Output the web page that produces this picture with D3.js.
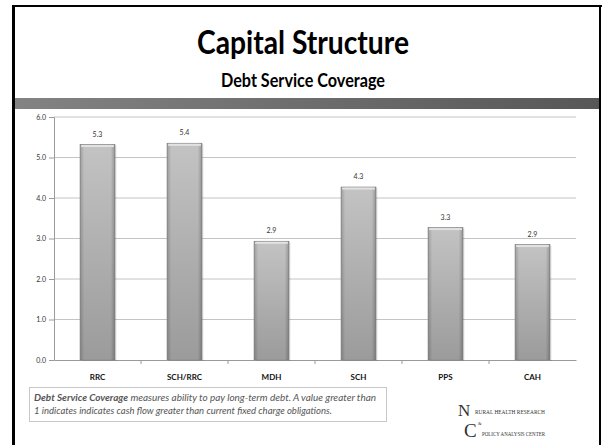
<!DOCTYPE html>
<html>
<head>
<meta charset="utf-8">
<script src="https://cdn.jsdelivr.net/npm/d3@7"></script>
<style>
  body { margin: 0; background: #fff; }
  svg { display: block; }
</style>
</head>
<body>
<div id="viz-container"></div>
<script>
// chart data
const categories = ["RRC", "SCH/RRC", "MDH", "SCH", "PPS", "CAH"];
const values = [5.32, 5.35, 2.93, 4.27, 3.27, 2.85];
const valueLabels = ["5.3", "5.4", "2.9", "4.3", "3.3", "2.9"];
const yTicks = [0, 1, 2, 3, 4, 5, 6];

const title = "Capital Structure";
const subtitle = "Debt Service Coverage";
const noteBold = "Debt Service Coverage";
const noteLine1 = " measures ability to pay long-term debt.  A value greater than";
const noteLine2 = "1 indicates indicates cash flow greater than current fixed charge obligations.";

const width = 602, height = 445;
const margin = { left: 54, right: 26, top: 117, bottom: 85 };
const font = "Lato, 'Open Sans', sans-serif";

const svg = d3.select("#viz-container").append("svg")
    .attr("width", width)
    .attr("height", height);

const defs = svg.append("defs");

// header band gradient
const band = defs.append("linearGradient").attr("id", "band");
band.append("stop").attr("offset", "0%").attr("stop-color", "#838383");
band.append("stop").attr("offset", "100%").attr("stop-color", "#575757");

// bar gradients: vertical shade + horizontal cylinder edges
const barV = defs.append("linearGradient").attr("id", "barV")
    .attr("x1", 0).attr("y1", 0).attr("x2", 0).attr("y2", 1);
barV.append("stop").attr("offset", "0%").attr("stop-color", "#c3c3c3");
barV.append("stop").attr("offset", "100%").attr("stop-color", "#9b9b9b");

const barH = defs.append("linearGradient").attr("id", "barH");
barH.append("stop").attr("offset", "0%").attr("stop-color", "#000").attr("stop-opacity", 0.18);
barH.append("stop").attr("offset", "12%").attr("stop-color", "#000").attr("stop-opacity", 0);
barH.append("stop").attr("offset", "88%").attr("stop-color", "#000").attr("stop-opacity", 0);
barH.append("stop").attr("offset", "100%").attr("stop-color", "#000").attr("stop-opacity", 0.22);

// frame
svg.append("rect").attr("x", 12).attr("y", 5).attr("width", 3).attr("height", height - 5).attr("fill", "#000");
svg.append("rect").attr("x", 12).attr("y", 5).attr("width", 590).attr("height", 2).attr("fill", "#000");
svg.append("rect").attr("x", 599).attr("y", 5).attr("width", 2).attr("height", height - 5).attr("fill", "#000");
svg.append("rect").attr("x", 15).attr("y", 98).attr("width", 584).attr("height", 11).attr("fill", "url(#band)");

// titles
svg.append("text")
    .attr("x", 303).attr("y", 54)
    .attr("text-anchor", "middle")
    .attr("font-family", font)
    .attr("font-size", 32)
    .attr("font-weight", 700)
    .attr("fill", "#000")
    .attr("textLength", 212)
    .attr("lengthAdjust", "spacingAndGlyphs")
    .text(title);

svg.append("text")
    .attr("x", 303).attr("y", 87)
    .attr("text-anchor", "middle")
    .attr("font-family", font)
    .attr("font-size", 18)
    .attr("font-weight", 700)
    .attr("fill", "#000")
    .attr("textLength", 164)
    .attr("lengthAdjust", "spacingAndGlyphs")
    .text(subtitle);

// scales
const x = d3.scaleBand()
    .domain(categories)
    .range([margin.left, width - margin.right])
    .paddingInner(0.6)
    .paddingOuter(0.3);

const xOuter = d3.scaleBand()
    .domain(categories)
    .range([margin.left, width - margin.right]);

const y = d3.scaleLinear()
    .domain([0, 6])
    .range([height - margin.bottom, margin.top]);

// gridlines
svg.append("g")
    .selectAll("line")
    .data(yTicks.slice(1))
    .join("line")
    .attr("x1", margin.left).attr("x2", width - margin.right)
    .attr("y1", d => y(d)).attr("y2", d => y(d))
    .attr("stroke", "#c4c4c4")
    .attr("stroke-width", 1);

// y axis
const yAxis = svg.append("g")
    .attr("transform", `translate(${margin.left},0)`)
    .call(d3.axisLeft(y).tickValues(yTicks).tickFormat(d3.format(".1f")).tickSize(5).tickPadding(3));
yAxis.select(".domain").attr("stroke", "#9a9a9a");
yAxis.selectAll(".tick line").attr("stroke", "#9a9a9a");
yAxis.selectAll(".tick text")
    .attr("font-family", font)
    .attr("font-size", 7)
    .attr("fill", "#333");

// x axis
const xAxis = svg.append("g")
    .attr("transform", `translate(0,${y(0)})`)
    .call(d3.axisBottom(xOuter).tickSize(0).tickPadding(14));
xAxis.select(".domain").attr("stroke", "#9a9a9a");
xAxis.selectAll(".tick text")
    .attr("font-family", font)
    .attr("font-size", 8)
    .attr("font-weight", 700)
    .attr("fill", "#111");

// separators between categories
svg.append("g")
    .selectAll("line")
    .data(categories.slice(1))
    .join("line")
    .attr("x1", d => xOuter(d)).attr("x2", d => xOuter(d))
    .attr("y1", y(0)).attr("y2", y(0) + 4)
    .attr("stroke", "#9a9a9a");

// bars
const bars = svg.append("g");
bars.selectAll(".shadow")
    .data(values)
    .join("rect")
    .attr("class", "shadow")
    .attr("x", (d, i) => x(categories[i]) + 1.5)
    .attr("y", d => y(d) + 1)
    .attr("width", x.bandwidth())
    .attr("height", d => y(0) - y(d))
    .attr("fill", "#000")
    .attr("opacity", 0.12);

bars.selectAll(".bar")
    .data(values)
    .join("rect")
    .attr("class", "bar")
    .attr("x", (d, i) => x(categories[i]))
    .attr("y", d => y(d))
    .attr("width", x.bandwidth())
    .attr("height", d => y(0) - y(d))
    .attr("fill", "url(#barV)")
    .attr("stroke", "#8e8e8e")
    .attr("stroke-width", 0.8);

bars.selectAll(".edge")
    .data(values)
    .join("rect")
    .attr("class", "edge")
    .attr("x", (d, i) => x(categories[i]))
    .attr("y", d => y(d))
    .attr("width", x.bandwidth())
    .attr("height", d => y(0) - y(d))
    .attr("fill", "url(#barH)");

bars.selectAll(".cap")
    .data(values)
    .join("rect")
    .attr("class", "cap")
    .attr("x", (d, i) => x(categories[i]) + 1)
    .attr("y", d => y(d) + 0.5)
    .attr("width", x.bandwidth() - 2)
    .attr("height", 2)
    .attr("fill", "#e2e2e2");

// value labels
svg.append("g")
    .selectAll("text")
    .data(values)
    .join("text")
    .attr("x", (d, i) => x(categories[i]) + x.bandwidth() / 2)
    .attr("y", d => y(d) - 8)
    .attr("text-anchor", "middle")
    .attr("font-family", font)
    .attr("font-size", 7)
    .attr("fill", "#333")
    .text((d, i) => valueLabels[i]);

// note box
svg.append("rect")
    .attr("x", 29.5).attr("y", 387.5)
    .attr("width", 357).attr("height", 34)
    .attr("fill", "#fff")
    .attr("stroke", "#c8c8c8");

const note = svg.append("g")
    .attr("font-family", font)
    .attr("font-size", 8.8)
    .attr("font-style", "italic")
    .attr("fill", "#555");
const l1 = note.append("text").attr("x", 34).attr("y", 401)
    .attr("textLength", 342).attr("lengthAdjust", "spacingAndGlyphs");
l1.append("tspan").attr("font-weight", 700).text(noteBold);
l1.append("tspan").text(noteLine1);
note.append("text").attr("x", 34).attr("y", 414)
    .attr("textLength", 298).attr("lengthAdjust", "spacingAndGlyphs")
    .text(noteLine2);

// logo
const logo = svg.append("g")
    .attr("font-family", "'Liberation Serif', 'DejaVu Serif', serif")
    .attr("fill", "#333");
logo.append("text").attr("x", 458).attr("y", 416).attr("font-size", 17).text("N");
logo.append("text").attr("x", 464).attr("y", 437).attr("font-size", 19).text("C");
logo.append("text").attr("x", 475).attr("y", 414).attr("font-size", 6.5)
    .attr("textLength", 70).attr("lengthAdjust", "spacingAndGlyphs")
    .text("RURAL HEALTH RESEARCH");
logo.append("text").attr("x", 478).attr("y", 425).attr("font-size", 4.5).text("&");
logo.append("text").attr("x", 482).attr("y", 436).attr("font-size", 6.5)
    .attr("textLength", 63).attr("lengthAdjust", "spacingAndGlyphs")
    .text("POLICY ANALYSIS CENTER");
</script>
</body>
</html>
